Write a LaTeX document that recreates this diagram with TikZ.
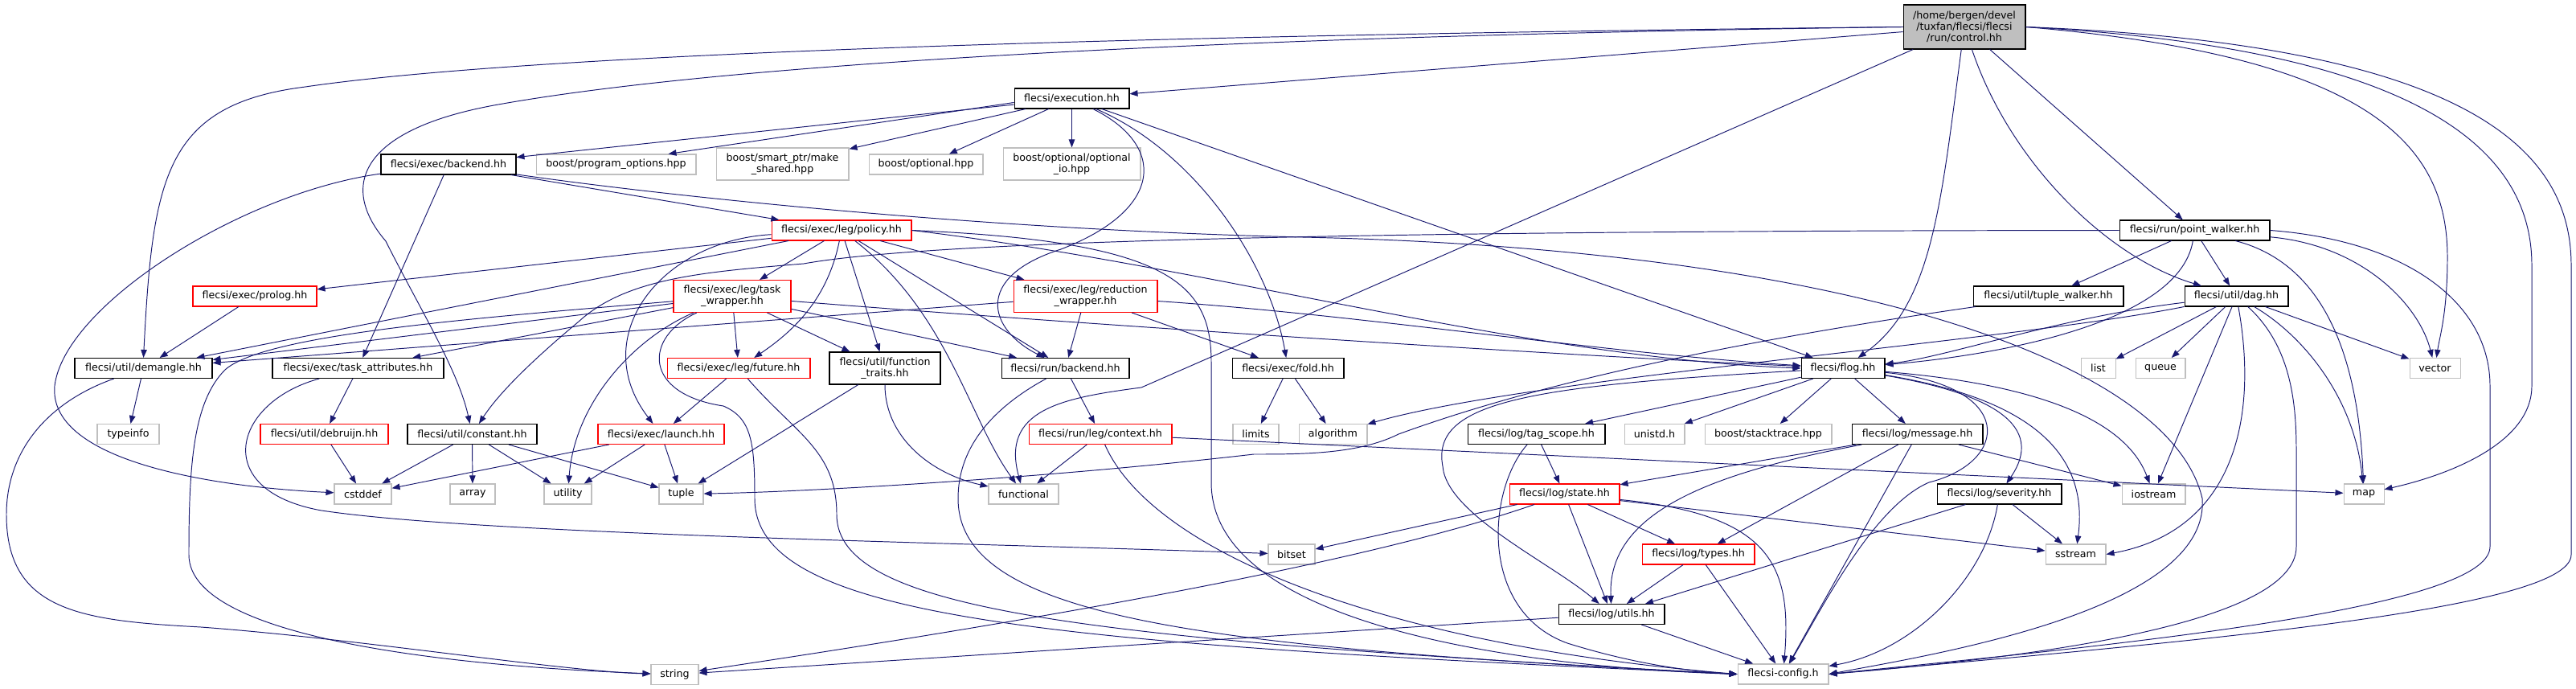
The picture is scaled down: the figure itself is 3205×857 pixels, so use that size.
\documentclass[tikz,border=0pt]{standalone}
\usepackage{fontspec}
\setmainfont{DejaVu Sans}
\usetikzlibrary{arrows.meta,positioning}
\definecolor{edgeblue}{HTML}{191970}
\definecolor{sysgrey}{HTML}{BFBFBF}
\definecolor{truncred}{HTML}{FF0000}

\begin{document}
\begin{tikzpicture}[x=0.02cm,y=-0.02cm,
    hdr/.style={draw=black,fill=white,line width=0.6pt,inner sep=0pt,minimum height=0.5cm,align=center,font=\fontsize{7.2}{8.1}\selectfont},
    sys/.style={hdr,draw=sysgrey},
    trunc/.style={hdr,draw=truncred},
    dep/.style={draw=edgeblue,line width=0.55pt,-{Triangle[length=0.2cm,width=0.15cm]}}]
    \useasboundingbox (0,0) rectangle (3205,857);

    \node[hdr,fill=sysgrey,minimum width=3.04cm,minimum height=1.1cm] (root) at (2444,33.5) {/home/bergen/devel\\/tuxfan/flecsi/flecsi\\/run/control.hh};
    \node[hdr,minimum width=2.86cm] (execution) at (1333.5,122.5) {flecsi/execution.hh};
    \node[hdr,minimum width=3.36cm] (eback) at (558,204.5) {flecsi/exec/backend.hh};
    \node[sys,minimum width=3.98cm] (popt) at (766.5,204.5) {boost/program\_options.hpp};
    \node[sys,minimum width=3.3cm,minimum height=0.8cm] (mkshared) at (973.5,204) {boost/smart\_ptr/make\\\_shared.hpp};
    \node[sys,minimum width=2.84cm] (optional) at (1152,204.5) {boost/optional.hpp};
    \node[sys,minimum width=3.42cm,minimum height=0.8cm] (optio) at (1333.5,204) {boost/optional/optional\\\_io.hpp};
    \node[trunc,minimum width=3.48cm] (policy) at (1047,286.5) {flecsi/exec/leg/policy.hh};
    \node[hdr,minimum width=3.74cm] (pwalk) at (2730.5,286.5) {flecsi/run/point\_walker.hh};
    \node[trunc,minimum width=3.08cm] (prolog) at (317,368.5) {flecsi/exec/prolog.hh};
    \node[trunc,minimum width=2.92cm,minimum height=0.8cm] (twrap) at (911,368.5) {flecsi/exec/leg/task\\\_wrapper.hh};
    \node[trunc,minimum width=3.58cm,minimum height=0.8cm] (rwrap) at (1350.5,368.5) {flecsi/exec/leg/reduction\\\_wrapper.hh};
    \node[hdr,minimum width=3.74cm] (twalk) at (2548.5,368.5) {flecsi/util/tuple\_walker.hh};
    \node[hdr,minimum width=2.58cm] (dag) at (2782.5,368.5) {flecsi/util/dag.hh};
    \node[hdr,minimum width=3.42cm] (demangle) at (178.5,458) {flecsi/util/demangle.hh};
    \node[hdr,minimum width=4.26cm] (tattr) at (445.5,458) {flecsi/exec/task\_attributes.hh};
    \node[trunc,minimum width=3.56cm] (future) at (919,458) {flecsi/exec/leg/future.hh};
    \node[hdr,minimum width=2.76cm,minimum height=0.8cm] (ftraits) at (1101,458) {flecsi/util/function\\\_traits.hh};
    \node[hdr,minimum width=3.18cm] (rback) at (1325.5,458) {flecsi/run/backend.hh};
    \node[hdr,minimum width=2.78cm] (fold) at (1602.5,458) {flecsi/exec/fold.hh};
    \node[hdr,minimum width=2.08cm] (flog) at (2293,458) {flecsi/flog.hh};
    \node[sys,minimum width=0.86cm] (list) at (2610.5,458) {list};
    \node[sys,minimum width=1.24cm] (queue) at (2688,458) {queue};
    \node[sys,minimum width=1.26cm] (vector) at (3029.5,458) {vector};
    \node[sys,minimum width=1.54cm] (typeinfo) at (159.5,540) {typeinfo};
    \node[trunc,minimum width=3.18cm] (debruijn) at (403.5,540) {flecsi/util/debruijn.hh};
    \node[hdr,minimum width=3.22cm] (constant) at (587.5,540) {flecsi/util/constant.hh};
    \node[trunc,minimum width=3.14cm] (launch) at (822.5,540) {flecsi/exec/launch.hh};
    \node[trunc,minimum width=3.56cm] (context) at (1369,540) {flecsi/run/leg/context.hh};
    \node[sys,minimum width=1.14cm] (limits) at (1562.5,540) {limits};
    \node[sys,minimum width=1.7cm] (algorithm) at (1658.5,540) {algorithm};
    \node[hdr,minimum width=3.42cm] (tagscope) at (1911.5,540) {flecsi/log/tag\_scope.hh};
    \node[sys,minimum width=1.5cm] (unistd) at (2058.5,540) {unistd.h};
    \node[sys,minimum width=3.16cm] (stacktrace) at (2200,540) {boost/stacktrace.hpp};
    \node[hdr,minimum width=3.26cm] (message) at (2385.5,540) {flecsi/log/message.hh};
    \node[sys,minimum width=1.42cm] (cstddef) at (451.5,614.5) {cstddef};
    \node[sys,minimum width=1.12cm] (array) at (588,614.5) {array};
    \node[sys,minimum width=1.18cm] (utility) at (706.5,614.5) {utility};
    \node[sys,minimum width=1.1cm] (tuple) at (847.5,614.5) {tuple};
    \node[sys,minimum width=1.74cm] (functional) at (1273.5,614.5) {functional};
    \node[trunc,minimum width=2.74cm] (state) at (1946.5,614.5) {flecsi/log/state.hh};
    \node[hdr,minimum width=3.1cm] (severity) at (2487.5,614.5) {flecsi/log/severity.hh};
    \node[sys,minimum width=1.58cm] (iostream) at (2679.5,614.5) {iostream};
    \node[sys,minimum width=1.0cm] (map) at (2941,614.5) {map};
    \node[sys,minimum width=1.16cm] (bitset) at (1607,689.5) {bitset};
    \node[trunc,minimum width=2.8cm] (types) at (2113,689.5) {flecsi/log/types.hh};
    \node[sys,minimum width=1.5cm] (sstream) at (2582.5,689.5) {sstream};
    \node[hdr,minimum width=2.64cm] (utils) at (2005,764) {flecsi/log/utils.hh};
    \node[sys,minimum width=1.18cm] (string) at (839.5,839) {string};
    \node[sys,minimum width=2.26cm] (config) at (2218.5,838.5) {flecsi-config.h};

    \foreach \a/\b in {root/execution,root/pwalk,execution/eback,execution/mkshared,execution/optional,execution/optio,execution/flog,
        eback/policy,eback/tattr,policy/prolog,policy/demangle,policy/twrap,policy/ftraits,policy/rback,policy/rwrap,
        twrap/demangle,twrap/tattr,twrap/future,twrap/ftraits,twrap/rback,rwrap/demangle,rwrap/rback,rwrap/fold,
        prolog/demangle,pwalk/twalk,pwalk/dag,dag/list,dag/queue,dag/iostream,dag/vector,
        demangle/typeinfo,tattr/debruijn,debruijn/cstddef,constant/cstddef,constant/array,constant/utility,constant/tuple,
        launch/cstddef,launch/utility,launch/tuple,future/launch,ftraits/tuple,rback/context,fold/limits,fold/algorithm,
        context/functional,context/map,flog/tagscope,flog/unistd,flog/stacktrace,flog/message,
        message/state,message/types,message/config,message/iostream,severity/utils,severity/sstream,
        state/bitset,state/types,state/utils,state/sstream,tagscope/state,types/utils,types/config,utils/string,utils/config}
    {
        \draw[dep] (\a) -- (\b);
    }
    \draw[dep] ([yshift=-0.1cm]execution.west) -- ([xshift=-0.7cm]popt.north east);

    \draw[dep] (root) .. controls (2415,250) and (2405,380) .. (flog);
    \draw[dep] (root) .. controls (2500,200) and (2620,320) .. (dag);
    \draw[dep] (root.west) .. controls (1300,45) and (640,70) .. (380,108) .. controls (205,130) and (190,220) .. (demangle.north);
    \draw[dep] (root.west) .. controls (1500,45) and (900,80) .. (620,130) .. controls (450,160) and (420,230) .. (480,300) .. controls (520,380) and (570,460) .. (constant);
    \draw[dep] (root) -- (1420,482) .. controls (1320,495) and (1245,510) .. (functional);
    \draw[dep] (root.east) .. controls (2950,70) and (3045,180) .. (3045,320) .. controls (3045,390) and (3035,420) .. (vector);
    \draw[dep] (root.east) .. controls (3000,60) and (3150,180) .. (3150,330) -- (3150,480) .. controls (3150,550) and (3050,590) .. (map);
    \draw[dep] (root.east) .. controls (3060,55) and (3199,180) .. (3199,330) -- (3199,690) .. controls (3199,760) and (2700,800) .. (config.east);

    \draw[dep] (execution) .. controls (1450,180) and (1450,260) .. (1320,310) .. controls (1210,345) and (1230,410) .. (rback);
    \draw[dep] (execution) .. controls (1490,190) and (1580,330) .. (fold);

    \draw[dep] (eback) .. controls (300,240) and (80,380) .. (68,480) .. controls (60,570) and (250,605) .. (cstddef);
    \draw[dep] (eback) .. controls (800,240) and (1200,285) .. (1620,295) .. controls (2300,310) and (2700,450) .. (2740,620) .. controls (2750,760) and (2400,815) .. (config.east);

    \draw[dep] (policy) .. controls (820,300) and (730,420) .. (launch);
    \draw[dep] (policy) .. controls (1030,370) and (990,410) .. (future);
    \draw[dep] (policy) .. controls (1180,390) and (1205,520) .. (functional);
    \draw[dep] (policy.east) .. controls (1500,330) and (1900,445) .. (flog.west);
    \draw[dep] (policy.east) .. controls (1450,300) and (1507,350) .. (1507,450) -- (1507,600) .. controls (1507,780) and (1900,830) .. (config.west);

    \draw[dep] (twrap) .. controls (790,420) and (715,500) .. (utility);
    \draw[dep] (twrap) .. controls (800,420) and (800,490) .. (900,505) .. controls (935,520) and (939,550) .. (939,620) .. controls (939,770) and (1300,800) .. (config.west);
    \draw[dep] (twrap) .. controls (1300,400) and (1900,440) .. (flog);
    \draw[dep] (twrap) .. controls (600,395) and (330,415) .. (280,460) .. controls (240,500) and (235,580) .. (235,690) .. controls (235,800) and (600,830) .. (string);
    \draw[dep] (rwrap) .. controls (1700,392) and (2000,440) .. (flog);

    \draw[dep] (pwalk.west) .. controls (2000,287) and (1200,292) .. (1000,328) .. controls (880,338) and (780,345) .. (720,400) .. controls (660,450) and (620,490) .. (constant);
    \draw[dep] (pwalk) .. controls (2710,410) and (2450,445) .. (flog);
    \draw[dep] (pwalk) .. controls (2900,330) and (2935,460) .. (map);
    \draw[dep] (pwalk) .. controls (2940,305) and (3010,380) .. (vector);
    \draw[dep] (pwalk.east) .. controls (3000,300) and (3098,380) .. (3098,480) -- (3098,680) .. controls (3098,760) and (2600,805) .. (config.east);
    \draw[dep] (twalk) .. controls (2050,440) and (1850,500) .. (1740,540) .. controls (1690,565) and (1620,565) .. (1560,565) .. controls (1300,595) and (1000,612) .. (tuple);

    \draw[dep] (dag) .. controls (2560,395) and (2420,445) .. (flog);
    \draw[dep] (dag) .. controls (2500,425) and (1900,470) .. (algorithm);
    \draw[dep] (dag) .. controls (2870,420) and (2930,500) .. (map);
    \draw[dep] (dag) .. controls (2810,520) and (2780,660) .. (sstream.east);
    \draw[dep] (dag) .. controls (2850,430) and (2857,500) .. (2857,560) -- (2857,680) .. controls (2857,780) and (2500,820) .. (config.east);

    \draw[dep] (demangle) .. controls (60,500) and (8,560) .. (8,640) .. controls (8,760) and (100,772) .. (250,780) .. controls (450,795) and (700,835) .. (string);
    \draw[dep] (tattr) .. controls (290,500) and (260,610) .. (400,635) .. controls (600,665) and (1200,675) .. (bitset);
    \draw[dep] (future) .. controls (990,540) and (1041,560) .. (1041,640) .. controls (1041,760) and (1350,795) .. (config.west);
    \draw[dep] (ftraits) .. controls (1101,545) and (1160,590) .. (functional);
    \draw[dep] (rback) .. controls (1230,510) and (1192,560) .. (1192,620) .. controls (1192,770) and (1500,805) .. (config.west);
    \draw[dep] (context) .. controls (1430,680) and (1700,800) .. (config.west);

    \draw[dep] (flog) .. controls (1900,480) and (1780,500) .. (1795,580) .. controls (1800,640) and (1930,700) .. (utils);
    \draw[dep] (flog) .. controls (2500,475) and (2640,510) .. (iostream);
    \draw[dep] (flog) .. controls (2480,490) and (2545,530) .. (severity);
    \draw[dep] (flog) .. controls (2520,495) and (2600,560) .. (sstream);
    \draw[dep] (flog) .. controls (2510,480) and (2500,575) .. (2400,600) .. controls (2330,630) and (2265,760) .. (config);
    \draw[dep] (message) .. controls (2120,590) and (2000,640) .. (utils);
    \draw[dep] (severity) .. controls (2470,720) and (2380,810) .. (config);
    \draw[dep] (state) .. controls (1700,700) and (1300,770) .. (string);
    \draw[dep] (state) .. controls (2200,640) and (2230,700) .. (config);
    \draw[dep] (tagscope) .. controls (1850,610) and (1840,760) .. (1950,800) .. controls (2030,825) and (2100,835) .. (config.west);
\end{tikzpicture}
\end{document}
